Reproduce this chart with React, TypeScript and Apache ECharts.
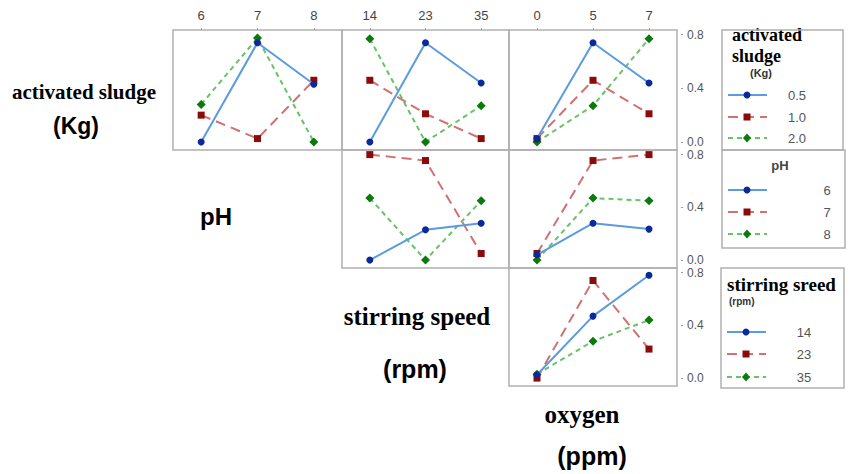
import React, { useEffect, useRef } from "react";
import * as echarts from "echarts";

// x-axis categories (one per column)
const phLevels = ["6", "7", "8"];
const speedLevels = ["14", "23", "35"];
const oxygenLevels = ["0", "5", "7"];
// line factors
const sludgeLevels = ["0.5", "1.0", "2.0"];
// right-axis tick labels
const yTicks = [0, 0.4, 0.8];

// Row 1: lines = activated sludge (0.5, 1.0, 2.0)
const sludgeByPH = [
  [0.0, 0.74, 0.43],
  [0.2, 0.025, 0.46],
  [0.28, 0.775, 0.0],
];
const sludgeBySpeed = [
  [0.0, 0.74, 0.44],
  [0.46, 0.21, 0.025],
  [0.77, 0.0, 0.27],
];
const sludgeByOxygen = [
  [0.025, 0.74, 0.44],
  [0.025, 0.46, 0.21],
  [0.0, 0.27, 0.77],
];
// Row 2: lines = pH (6, 7, 8)
const phBySpeed = [
  [0.0, 0.23, 0.28],
  [0.8, 0.755, 0.05],
  [0.47, 0.0, 0.45],
];
const phByOxygen = [
  [0.04, 0.28, 0.235],
  [0.05, 0.755, 0.8],
  [0.0, 0.47, 0.45],
];
// Row 3: lines = stirring speed (14, 23, 35)
const speedByOxygen = [
  [0.025, 0.47, 0.78],
  [0.0, 0.74, 0.22],
  [0.03, 0.28, 0.44],
];

const SERIF = "'Liberation Serif', 'Times New Roman', serif";
const SANS = "'Liberation Sans', Arial, sans-serif";

const lineColors = ["#5b9be0", "#d07272", "#66c466"];
const markerColors = ["#0b2a99", "#8b0a0a", "#0a7a0a"];
const symbols = ["circle", "rect", "diamond"];
const symbolSizes = [7, 7, 9];
const dashes: any[] = ["solid", [10, 6], [5, 4]];

const cols = [
  { left: 173, width: 169, cats: phLevels },
  { left: 342, width: 167, cats: speedLevels },
  { left: 509, width: 168, cats: oxygenLevels },
];
const rows = [
  { top: 30, height: 120 },
  { top: 150, height: 118 },
  { top: 268, height: 118 },
];

const panels = [
  { row: 0, col: 0, data: sludgeByPH, names: sludgeLevels },
  { row: 0, col: 1, data: sludgeBySpeed, names: sludgeLevels },
  { row: 0, col: 2, data: sludgeByOxygen, names: sludgeLevels },
  { row: 1, col: 1, data: phBySpeed, names: phLevels },
  { row: 1, col: 2, data: phByOxygen, names: phLevels },
  { row: 2, col: 2, data: speedByOxygen, names: speedLevels },
];

function legendBox(
  x: number,
  y: number,
  w: number,
  h: number,
  rowsY: number[],
  labels: string[],
  labelX: number
) {
  const els: any[] = [
    {
      type: "rect",
      shape: { x, y, width: w, height: h },
      style: { fill: "none", stroke: "#b0b0b0", lineWidth: 1.5 },
    },
  ];
  rowsY.forEach((ly, i) => {
    els.push({
      type: "line",
      shape: { x1: x + 6, y1: ly, x2: x + 45, y2: ly },
      style: {
        stroke: lineColors[i],
        lineWidth: 2,
        lineDash: i === 0 ? null : dashes[i],
      },
    });
    const cx = x + 25;
    if (i === 0) {
      els.push({ type: "circle", shape: { cx, cy: ly, r: 3.5 }, style: { fill: markerColors[i] } });
    } else if (i === 1) {
      els.push({ type: "rect", shape: { x: cx - 3.5, y: ly - 3.5, width: 7, height: 7 }, style: { fill: markerColors[i] } });
    } else {
      els.push({
        type: "polygon",
        shape: { points: [[cx, ly - 4.5], [cx + 4, ly], [cx, ly + 4.5], [cx - 4, ly]] },
        style: { fill: markerColors[i] },
      });
    }
    els.push({
      type: "text",
      x: labelX,
      y: ly,
      style: {
        text: labels[i],
        font: `13px ${SANS}`,
        fill: "#555",
        align: "center",
        verticalAlign: "middle",
      },
    });
  });
  return els;
}

function txt(text: string, x: number, y: number, font: string, fill = "#000", align = "center") {
  return {
    type: "text",
    x,
    y,
    style: { text, font, fill, align, verticalAlign: "middle" },
  };
}

export default function App() {
  const ref = useRef<HTMLDivElement>(null);
  useEffect(() => {
    if (!ref.current) return;
    const chart = echarts.init(ref.current, null, { renderer: "svg" });

    const grid = panels.map((p) => ({
      left: cols[p.col].left,
      width: cols[p.col].width,
      top: rows[p.row].top,
      height: rows[p.row].height,
      show: true,
      borderColor: "#b0b0b0",
      borderWidth: 1.5,
      backgroundColor: "transparent",
    }));

    const xAxis = panels.map((p, i) => ({
      type: "category",
      gridIndex: i,
      data: cols[p.col].cats,
      boundaryGap: true,
      position: "top",
      axisLine: { show: false, onZero: false },
      axisTick: {
        show: p.row === 0,
        alignWithLabel: true,
        length: 2,
        lineStyle: { color: "#999" },
      },
      axisLabel: {
        show: p.row === 0,
        margin: 8,
        fontSize: 13,
        color: "#444",
        fontFamily: SANS,
      },
      splitLine: { show: false },
    }));

    const yAxis = panels.map((p, i) => ({
      type: "value",
      gridIndex: i,
      min: -0.06,
      max: 0.835,
      position: "right",
      offset: 4,
      axisLine: { show: false, onZero: false },
      axisTick: {
        show: p.col === 2,
        length: 2,
        customValues: yTicks,
        lineStyle: { color: "#999" },
      },
      axisLabel: {
        show: p.col === 2,
        customValues: yTicks,
        formatter: (v: number) => v.toFixed(1),
        margin: 6,
        fontSize: 12,
        color: "#555",
        fontFamily: SANS,
      },
      splitLine: { show: false },
    }));

    const series: any[] = [];
    panels.forEach((p, pi) => {
      p.data.forEach((vals, li) => {
        series.push({
          type: "line",
          name: p.names[li],
          xAxisIndex: pi,
          yAxisIndex: pi,
          data: vals,
          symbol: symbols[li],
          symbolSize: symbolSizes[li],
          showSymbol: true,
          lineStyle: { color: lineColors[li], width: 2, type: dashes[li] },
          itemStyle: { color: markerColors[li] },
          z: 3 - li,
        });
      });
    });

    const graphic: any[] = [
      // left-side factor labels
      txt("activated sludge", 84, 92, `bold 21px ${SERIF}`),
      txt("(Kg)", 76, 126, `bold 23px ${SANS}`),
      txt("pH", 216, 216, `bold 24px ${SANS}`),
      txt("stirring speed", 417, 316, `bold 25px ${SERIF}`),
      txt("(rpm)", 415, 369, `bold 25px ${SANS}`),
      txt("oxygen", 582, 414, `bold 25px ${SERIF}`),
      txt("(ppm)", 592, 456, `bold 25px ${SANS}`),
      // legend titles
      txt("activated", 732, 35, `bold 18px ${SERIF}`, "#000", "left"),
      txt("sludge", 732, 56, `bold 18px ${SERIF}`, "#000", "left"),
      txt("(Kg)", 761, 73, `bold 11px ${SANS}`, "#333"),
      txt("pH", 780, 165, `bold 13px ${SANS}`, "#444"),
      txt("stirring sreed", 727, 284, `bold 19px ${SERIF}`, "#000", "left"),
      txt("(rpm)", 729, 301, `bold 10px ${SANS}`, "#333", "left"),
      ...legendBox(722, 30, 121, 120, [95, 117, 138], sludgeLevels, 797),
      ...legendBox(722, 150, 123, 98, [190, 212, 234], phLevels, 827),
      ...legendBox(721, 268, 123, 120, [332, 354, 377], speedLevels, 804),
    ];

    chart.setOption({
      animation: false,
      backgroundColor: "#fff",
      grid,
      xAxis,
      yAxis,
      series,
      graphic,
    });
    return () => chart.dispose();
  }, []);

  return (
    <div
      ref={ref}
      style={{ position: "absolute", left: 0, top: 0, width: 851, height: 474 }}
    />
  );
}
